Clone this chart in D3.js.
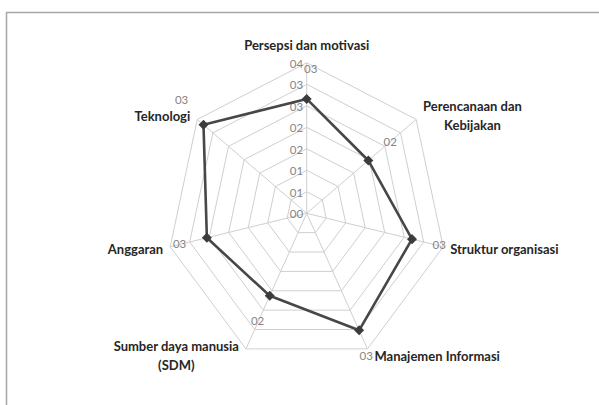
<!DOCTYPE html>
<html>
<head>
<meta charset="utf-8">
<script src="https://cdn.jsdelivr.net/npm/d3@7"></script>
<style>
  html, body { margin: 0; padding: 0; background: #fff; }
  svg { display: block; }
</style>
</head>
<body>
<svg id="chart" width="599" height="405"></svg>
<script>
// ---- data ----
const categories = ["Persepsi dan motivasi", "Perencanaan dan Kebijakan", "Struktur organisasi", "Manajemen Informasi", "Sumber daya manusia (SDM)", "Anggaran", "Teknologi"];
const categoryLines = [["Persepsi dan motivasi"], ["Perencanaan dan", "Kebijakan"], ["Struktur organisasi"], ["Manajemen Informasi"], ["Sumber daya manusia", "(SDM)"], ["Anggaran"], ["Teknologi"]];
const values = [2.66, 1.97, 2.70, 3.02, 2.13, 2.56, 3.30];
const dataLabels = ["03", "02", "03", "03", "02", "03", "03"];
const ringTicks = [0, 0.5, 1, 1.5, 2, 2.5, 3, 3.5];
const tickLabels = ["00", "01", "01", "02", "02", "03", "03", "04"];

// ---- layout ----
const svg = d3.select("#chart");
const cx = 306.7, cy = 213.3;
const rY = d3.scaleLinear().domain([0, 3.5]).range([0, 150.5]);
const rX = d3.scaleLinear().domain([0, 3.5]).range([0, 140]);
const n = categories.length;
const angle = d3.scaleLinear().domain([0, n]).range([0, 2 * Math.PI]);
const pt = (v, i) => [cx + rX(v) * Math.sin(angle(i)), cy - rY(v) * Math.cos(angle(i))];
const font = "Lato, 'Open Sans', sans-serif";

// chart border
svg.append("rect").attr("x", 6.5).attr("y", 12.5).attr("width", 620).attr("height", 420)
  .attr("fill", "none").attr("stroke", "#a6a6a6").attr("stroke-width", 1.5);

const grid = svg.append("g");
// rings
ringTicks.filter(t => t > 0).forEach(t => {
  grid.append("polygon")
    .attr("points", d3.range(n).map(i => pt(t, i).join(",")).join(" "))
    .attr("fill", "none").attr("stroke", "#cfcfcf").attr("stroke-width", 1);
});
// spokes
d3.range(n).forEach(i => {
  const p = pt(3.5, i);
  grid.append("line").attr("x1", cx).attr("y1", cy).attr("x2", p[0]).attr("y2", p[1])
    .attr("stroke", "#cfcfcf").attr("stroke-width", 1);
});

// ring labels
svg.append("g").selectAll("text").data(ringTicks).join("text")
  .attr("x", cx - 3.5)
  .attr("y", d => cy - rY(d) + 1)
  .attr("dy", "0.35em")
  .attr("text-anchor", "end")
  .attr("font-family", font)
  .attr("font-size", 11.5)
  .attr("fill", "#858585")
  .text((d, i) => tickLabels[i]);

// series
const line = d3.line().curve(d3.curveLinearClosed);
svg.append("path")
  .attr("d", line(values.map((v, i) => pt(v, i))))
  .attr("fill", "none").attr("stroke", "#474747").attr("stroke-width", 2.6)
  .attr("stroke-linejoin", "round");
svg.append("g").selectAll("path").data(values).join("path")
  .attr("d", d3.symbol(d3.symbolDiamond2, 64)())
  .attr("transform", (v, i) => { const p = pt(v, i); return `translate(${p[0]},${p[1]})`; })
  .attr("fill", "#3c3c3c");

// data labels (small nudges keep them clear of neighbouring texts)
const nudge = { 0: [4, 0], 3: [-5, 0], 6: [0, -6] };
svg.append("g").selectAll("text").data(values).join("text")
  .attr("x", (v, i) => pt(v, i)[0] + 28 * Math.sin(angle(i)) + (nudge[i] ? nudge[i][0] : 0))
  .attr("y", (v, i) => pt(v, i)[1] - 29 * Math.cos(angle(i)) - 0.5 + (nudge[i] ? nudge[i][1] : 0))
  .attr("dy", "0.35em")
  .attr("text-anchor", "middle")
  .attr("font-family", font)
  .attr("font-size", 11.5)
  .attr("fill", "#858585")
  .text((v, i) => dataLabels[i]);

// category labels
const lineH = 19;
const catG = svg.append("g");
categoryLines.forEach((lines, i) => {
  const a = angle(i);
  const s = Math.sin(a), c = Math.cos(a);
  const v = pt(3.5, i);
  const t = catG.append("text")
    .attr("font-family", font)
    .attr("font-size", 13)
    .attr("font-weight", "bold")
    .attr("fill", "#262626")
    .attr("text-anchor", "middle");
  lines.forEach(l => t.append("tspan").text(l));
  const widths = [];
  t.selectAll("tspan").each(function () { widths.push(this.getComputedTextLength()); });
  const w = d3.max(widths);
  const h = lines.length * lineH;
  let bx, by;
  if (Math.abs(s) < 0.1) {
    bx = v[0];
    by = v[1] - 17 - (h - lineH) / 2;
  } else {
    bx = s > 0 ? v[0] + 7 + w / 2 : v[0] - 7 - w / 2;
    by = v[1] - 7 * c + 1;
  }
  t.selectAll("tspan")
    .attr("x", bx)
    .attr("y", (d, k) => by - h / 2 + lineH / 2 + k * lineH)
    .attr("dy", "0.35em");
});
</script>
</body>
</html>
